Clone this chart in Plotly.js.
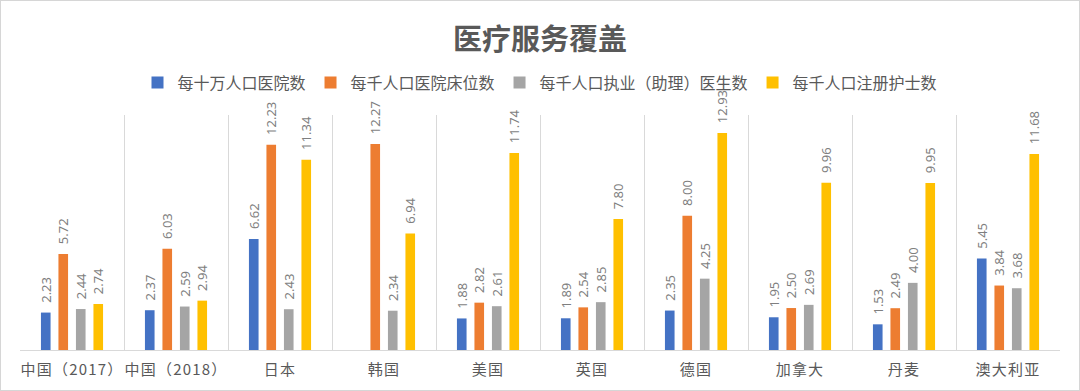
<!DOCTYPE html>
<html>
<head>
<meta charset="utf-8">
<script src="https://cdn.plot.ly/plotly-3.0.1.min.js"></script>
<style>
html,body{margin:0;padding:0;background:#fff;}
#chart{width:1078px;height:389px;border:1px solid #d6d6d6;}
#chart .xtick text{letter-spacing:1.2px;}
</style>
</head>
<body>
<div id="chart"></div>
<script>
const categories = ["中国（2017）", "中国（2018）", "日本", "韩国", "美国", "英国", "德国", "加拿大", "丹麦", "澳大利亚"];
const seriesNames = ["每十万人口医院数", "每千人口医院床位数", "每千人口执业（助理）医生数", "每千人口注册护士数"];
const hospitalsPer100k = [2.23, 2.37, 6.62, null, 1.88, 1.89, 2.35, 1.95, 1.53, 5.45];
const bedsPer1k = [5.72, 6.03, 12.23, 12.27, 2.82, 2.54, 8.00, 2.50, 2.49, 3.84];
const doctorsPer1k = [2.44, 2.59, 2.43, 2.34, 2.61, 2.85, 4.25, 2.69, 4.00, 3.68];
const nursesPer1k = [2.74, 2.94, 11.34, 6.94, 11.74, 7.80, 12.93, 9.96, 9.95, 11.68];
const colors = ["#4472c4", "#ed7d31", "#a5a5a5", "#ffc000"];

const allSeries = [hospitalsPer100k, bedsPer1k, doctorsPer1k, nursesPer1k];
const font = "'Noto Sans CJK SC', 'Noto Sans', sans-serif";
const pad = "\u00a0\u00a0";

const traces = allSeries.map((vals, i) => ({
  type: "bar",
  name: seriesNames[i],
  x: categories,
  y: vals,
  marker: {color: colors[i]},
  text: vals.map(v => v === null ? "" : pad + v.toFixed(2)),
  textposition: "outside",
  textangle: -90,
  constraintext: "none",
  cliponaxis: false,
  textfont: {family: "'Noto Sans', sans-serif", size: 13, color: "#7f7f7f"},
  hoverinfo: "x+y+name"
}));

const layout = {
  width: 1078,
  height: 389,
  paper_bgcolor: "#ffffff",
  plot_bgcolor: "#ffffff",
  margin: {l: 19, r: 19, t: 114, b: 40},
  title: {
    text: "<b>医疗服务覆盖</b>",
    font: {family: font, size: 29, color: "#595959"},
    x: 0.5, xanchor: "center",
    y: 0.9, yanchor: "middle"
  },
  showlegend: true,
  legend: {
    orientation: "h",
    x: 0.5, xanchor: "center",
    y: 1.138, yanchor: "middle",
    bgcolor: "rgba(0,0,0,0)",
    font: {family: font, size: 16, color: "#595959"},
    itemwidth: 30,
    traceorder: "normal"
  },
  barmode: "group",
  bargap: 0.327,
  bargroupgap: 0.45,
  xaxis: {
    type: "category",
    tickson: "boundaries",
    showgrid: true,
    gridcolor: "#d9d9d9",
    gridwidth: 1,
    showline: true,
    linecolor: "#d9d9d9",
    linewidth: 1,
    ticks: "",
    ticklabelstandoff: 6,
    tickfont: {family: font, size: 15, color: "#595959"},
    fixedrange: true
  },
  yaxis: {
    range: [0, 14],
    showgrid: false,
    zeroline: false,
    showticklabels: false,
    showline: false,
    ticks: "",
    fixedrange: true
  }
};

Plotly.newPlot("chart", traces, layout, {displayModeBar: false, staticPlot: true});
</script>
</body>
</html>
